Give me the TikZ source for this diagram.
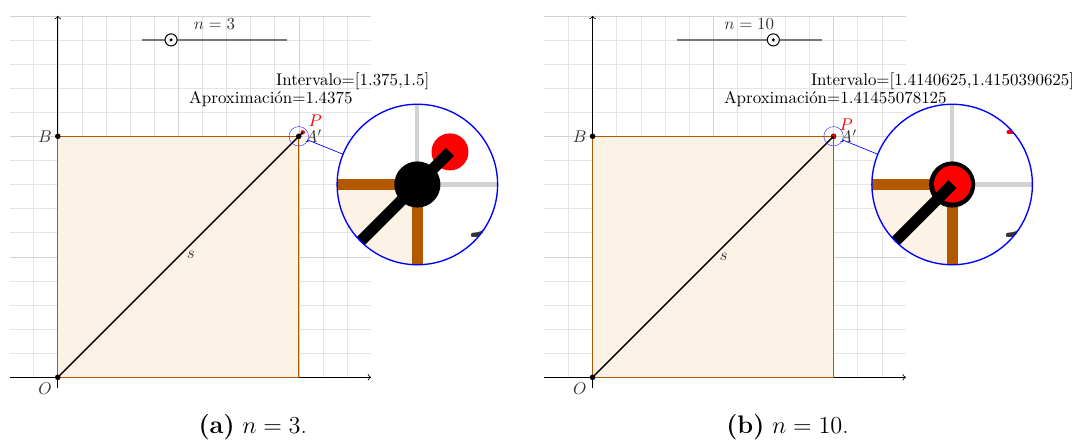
\documentclass[tikz,border=0pt]{standalone}
\usepackage{tikz}
\usetikzlibrary{spy}
\definecolor{sqbrown}{RGB}{178,89,0}
\definecolor{sqfill}{RGB}{253,242,230}
\definecolor{gridminor}{RGB}{229,229,229}
\definecolor{gridmajor}{RGB}{210,210,210}
\definecolor{slidergray}{RGB}{120,120,120}
% one panel: #1 shift, #2 n, #3 interval, #4 approximation, #5 sub-caption letter
\newcommand{\bisecpanel}[5]{%
	\begin{scope}[xshift=#1, x=5cm, y=5cm,
			spy using outlines={circle, draw=blue, line width=0.6pt,
					magnification=8.25, size=3.33cm, connect spies}]
		\pgfmathsetmacro{\pcoord}{#4/sqrt(2)}
		\pgfmathsetmacro{\knobx}{0.35+0.6*#2/15}

		% Grid (minor every 0.1, major every 0.5)
		\foreach \i in {-1,...,12} \draw[minorgrid] (\i/10,0) -- (\i/10,1.5);
		\foreach \j in {1,...,15} \draw[minorgrid] (-0.2,\j/10) -- (1.3,\j/10);
		\foreach \i in {5,10} \draw[majorgrid] (\i/10,0) -- (\i/10,1.5);
		\foreach \j in {5,10,15} \draw[majorgrid] (-0.2,\j/10) -- (1.3,\j/10);

		% Axes
		\draw[axisline] (-0.2,0) -- (1.3,0);
		\draw[axisline] (0,-0.045) -- (0,1.5);

		% Unit square
		\draw[squareside] (0,0) rectangle (1,1);

		% Slider for n
		\draw[sliderline] (0.35,1.4) -- (0.95,1.4);
		\node[sliderknob] (knob) at (\knobx,1.4) {};
		\node[knobdot] (knobc) at (knob.center) {};
		\node[sliderlabel] (nlabel) at (0.65,1.467) {$n=#2$};

		% Points and the diagonal segment
		\node[ptblack] (O) at (0,0) {};
		\node[ptblack] (B) at (0,1) {};
		\node[ptblack] (A) at (1,1) {};
		\node[ptred] (P) at (\pcoord,\pcoord) {};
		\draw[segline] (O.center) -- (P.center)
			node[ptlabel, midway, right, inner sep=3.5pt] (slabel) {$s$};

		\node[ptlabel, left] (Blabel) at (B) {$B$};
		\node[ptlabel, below left] (Olabel) at (O) {$O$};
		\node[ptlabel, right] (Alabel) at (A) {$A'$};
		\node[ptlabel, red, above right] (Plabel) at (P) {$P$};

		% Bisection texts
		\node[infotext] (interval) at (0.905,1.209) {Intervalo=[#3]};
		\node[infotext] (approx) at (0.544,1.137) {Aproximación=#4};

		\node[subcaption] (cap) at (0.809,-0.2324) {\textbf{(#5)} $n=#2$.};

		% Magnifier round A'
		\spy on (A) in node[fill=white] at (1.492,0.8);
	\end{scope}
}

\begin{document}
\begin{tikzpicture}[
		minorgrid/.style={draw=gridminor, line width=0.3pt},
		majorgrid/.style={draw=gridmajor, line width=0.3pt},
		axisline/.style={->, black, line width=0.5pt},
		squareside/.style={draw=sqbrown, fill=sqfill, line width=0.8pt},
		sliderline/.style={draw=slidergray, line width=1pt},
		sliderknob/.style={
				circle, draw=black, fill=white, line width=0.6pt,
				minimum size=0.25cm, inner sep=0pt
			},
		knobdot/.style={circle, fill=black, minimum size=0.07cm, inner sep=0pt},
		sliderlabel/.style={text=black!80},
		ptblack/.style={circle, fill=black, minimum size=0.116cm, inner sep=0pt},
		ptred/.style={circle, fill=red, minimum size=0.093cm, inner sep=0pt},
		segline/.style={draw=black, line width=0.8pt},
		ptlabel/.style={text=black!80},
		infotext/.style={anchor=base west, inner sep=0pt},
		subcaption/.style={anchor=base, font=\fontsize{15}{18}\selectfont}
	]

	\useasboundingbox (-1.199,-1.301) rectangle (21.166,7.828);

	\bisecpanel{0cm}{3}{1.375,1.5}{1.4375}{a}
	\bisecpanel{11.095cm}{10}{1.4140625,1.4150390625}{1.41455078125}{b}

\end{tikzpicture}
\end{document}
